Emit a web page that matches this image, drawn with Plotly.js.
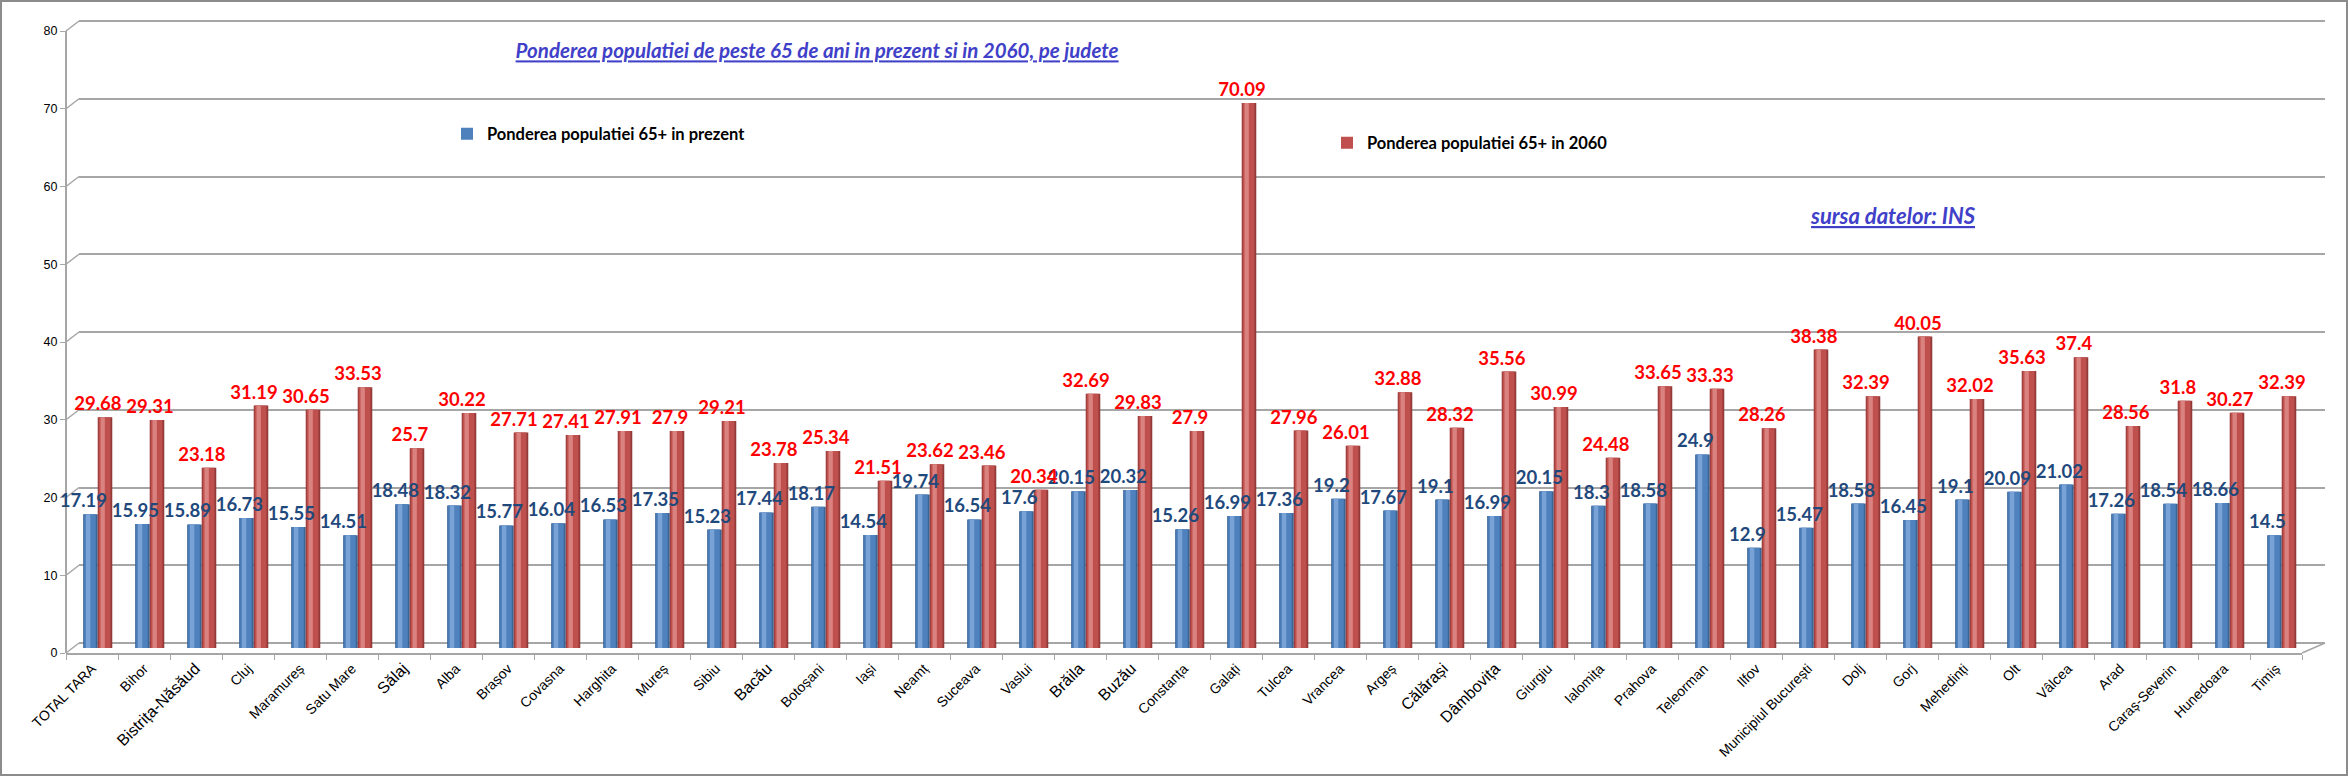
<!DOCTYPE html>
<html>
<head>
<meta charset="utf-8">
<script src="https://cdn.plot.ly/plotly-3.0.1.min.js"></script>
<style>
  html, body { margin: 0; padding: 0; background: #ffffff; }
  #wrap { position: relative; width: 2348px; height: 776px; }
  #chart { width: 2348px; height: 776px; }
  #frame { position: absolute; left: 0; top: 0; width: 2348px; height: 776px; box-sizing: border-box; border: 2px solid #8c8c8c; pointer-events: none; }
</style>
</head>
<body>
<div id="wrap"><div id="chart"></div><div id="frame"></div></div>
<script>
// ---- data ----
const categories = ["TOTAL TARA", "Bihor", "Bistrița-Năsăud", "Cluj", "Maramureș", "Satu Mare", "Sălaj", "Alba", "Brașov", "Covasna", "Harghita", "Mureș", "Sibiu", "Bacău", "Botoșani", "Iași", "Neamț", "Suceava", "Vaslui", "Brăila", "Buzău", "Constanța", "Galați", "Tulcea", "Vrancea", "Argeș", "Călărași", "Dâmbovița", "Giurgiu", "Ialomița", "Prahova", "Teleorman", "Ilfov", "Municipiul București", "Dolj", "Gorj", "Mehedinți", "Olt", "Vâlcea", "Arad", "Caraș-Severin", "Hunedoara", "Timiș"];
const present = [17.19, 15.95, 15.89, 16.73, 15.55, 14.51, 18.48, 18.32, 15.77, 16.04, 16.53, 17.35, 15.23, 17.44, 18.17, 14.54, 19.74, 16.54, 17.6, 20.15, 20.32, 15.26, 16.99, 17.36, 19.2, 17.67, 19.1, 16.99, 20.15, 18.3, 18.58, 24.9, 12.9, 15.47, 18.58, 16.45, 19.1, 20.09, 21.02, 17.26, 18.54, 18.66, 14.5];
const in2060 = [29.68, 29.31, 23.18, 31.19, 30.65, 33.53, 25.7, 30.22, 27.71, 27.41, 27.91, 27.9, 29.21, 23.78, 25.34, 21.51, 23.62, 23.46, 20.34, 32.69, 29.83, 27.9, 70.09, 27.96, 26.01, 32.88, 28.32, 35.56, 30.99, 24.48, 33.65, 33.33, 28.26, 38.38, 32.39, 40.05, 32.02, 35.63, 37.4, 28.56, 31.8, 30.27, 32.39];
const seriesNames = ["Ponderea populatiei 65+ in prezent", "Ponderea populatiei 65+ in 2060"];
const yTicks = [0, 10, 20, 30, 40, 50, 60, 70, 80];
const chartTitle = "Ponderea populatiei de peste 65 de ani in prezent si in 2060, pe judete";
const sourceNote = "sursa datelor: INS";
// category labels that the reference prints in a larger type
const largerLabels = ["Bistrița-Năsăud", "Sălaj", "Bacău", "Brăila", "Buzău", "Călărași", "Dâmbovița"];

// ---- styling ----
const LATO = "Lato, 'Liberation Sans', sans-serif";
const SANS = "'Liberation Sans', Arial, sans-serif";
const GRID = '#a6a6a6';
const BAR_W = 0.28;
const PLOT_W = 2259, PLOT_H = 635, PLOT_L = 66, PLOT_B = 653;
const DEPTH_X = 13, DEPTH_Y = 10;          // 3-D wall offset in px
const PX_PER_UNIT = 622 / 80;
const SPAN = PLOT_H / PX_PER_UNIT;
const px2x = px => (px - PLOT_L) / PLOT_W;
const px2y = py => (PLOT_B - py) / PLOT_H;

function cylinder(values, offset, colors, name, legendId) {
  const layers = [
    { w: 1.0,  shift: 0.0,   color: colors.edge,  legend: false },
    { w: 0.80, shift: -0.03, color: colors.body,  legend: true },
    { w: 0.30, shift: -0.16, color: colors.light, legend: false }
  ];
  return layers.map(L => ({
    type: 'bar',
    x: categories,
    y: values,
    xaxis: 'x2', yaxis: 'y2',
    width: BAR_W * L.w,
    offset: offset + BAR_W * (1 - L.w) / 2 + L.shift * BAR_W,
    marker: { color: L.color, line: { width: 0 } },
    name: name,
    showlegend: L.legend,
    legend: legendId,
    hoverinfo: L.legend ? 'x+y+name' : 'skip'
  }));
}

function labels(values, offset, color) {
  return {
    type: 'bar',
    x: categories,
    y: values,
    xaxis: 'x2', yaxis: 'y2',
    width: BAR_W,
    offset: offset,
    marker: { color: 'rgba(0,0,0,0)', line: { width: 0 } },
    text: values.map(v => String(v)),
    textposition: 'outside',
    constraintext: 'none',
    cliponaxis: false,
    textfont: { family: LATO, size: 18.5, color: color, weight: 'bold' },
    showlegend: false,
    hoverinfo: 'skip'
  };
}

const blueOff = -0.17, redOff = 0.11, labelShift = -0.135;
const data = [].concat(
  [{ type: 'scatter', x: [], y: [], xaxis: 'x', yaxis: 'y', showlegend: false, hoverinfo: 'skip' }],
  cylinder(present, blueOff, { edge: '#3a6396', body: '#4f81bd', light: '#79a2d6' }, seriesNames[0], 'legend'),
  cylinder(in2060, redOff, { edge: '#943b39', body: '#c0504d', light: '#d9827f' }, seriesNames[1], 'legend2'),
  [labels(present, blueOff + labelShift, '#1f497d'), labels(in2060, redOff + labelShift, '#ff0000')],
  [{ type: 'scatter', x: [], y: [], xaxis: 'x2', yaxis: 'y3', showlegend: false, hoverinfo: 'skip' }]
);

// 3-D look: diagonal wall connectors at each value tick, front value axis line, floor's right end
const shapes = yTicks.map(v => ({
  type: 'line', xref: 'paper', yref: 'paper', layer: 'below',
  x0: px2x(PLOT_L), y0: px2y(PLOT_B - v * PX_PER_UNIT),
  x1: px2x(PLOT_L + DEPTH_X), y1: px2y(PLOT_B - DEPTH_Y - v * PX_PER_UNIT),
  line: { color: GRID, width: 1.5 }
}));
shapes.push({
  type: 'line', xref: 'paper', yref: 'y3', layer: 'below',
  x0: 0, x1: 0, y0: yTicks[0], y1: yTicks[yTicks.length - 1],
  line: { color: GRID, width: 2 }
});
shapes.push({
  type: 'line', xref: 'paper', yref: 'paper', layer: 'below',
  x0: 2236 / PLOT_W, y0: 0, x1: 1, y1: px2y(PLOT_B - DEPTH_Y),
  line: { color: GRID, width: 1.5 }
});

const tickText = categories.map(c => largerLabels.includes(c) ? '<span style="font-size:16px">' + c + '</span>' : c);

const layout = {
  width: 2348, height: 776,
  margin: { l: PLOT_L, r: 2348 - PLOT_L - PLOT_W, t: PLOT_B - PLOT_H, b: 776 - PLOT_B },
  paper_bgcolor: '#ffffff',
  plot_bgcolor: 'rgba(0,0,0,0)',
  barmode: 'overlay',
  font: { family: SANS, color: '#000000' },
  title: {
    text: chartTitle,
    xref: 'container', yref: 'container',
    x: 0.348, y: 0.934, xanchor: 'center', yanchor: 'middle',
    font: { family: LATO, size: 20.5, color: '#4040c8', weight: 'bold', style: 'italic', lineposition: 'under' }
  },
  // back wall grid
  xaxis: { domain: [DEPTH_X / PLOT_W, 1], anchor: 'y', showgrid: false, zeroline: false, showline: false, showticklabels: false, ticks: '', range: [0, 1], fixedrange: true },
  yaxis: { domain: [0, 1], anchor: 'x', range: [-DEPTH_Y / PX_PER_UNIT, SPAN - DEPTH_Y / PX_PER_UNIT], tickvals: yTicks, showgrid: true, gridcolor: GRID, gridwidth: 2, zeroline: false, showline: false, showticklabels: false, ticks: '' },
  // front category axis and bars
  xaxis2: {
    domain: [0, 2236 / PLOT_W], anchor: 'y2', type: 'category',
    range: [-0.5, categories.length - 0.5],
    tickvals: categories, ticktext: tickText,
    tickson: 'boundaries', ticks: 'outside', ticklen: 5, tickcolor: GRID, tickwidth: 1,
    showline: true, linecolor: GRID, linewidth: 2, showgrid: false, zeroline: false,
    tickangle: -45, tickfont: { family: SANS, size: 14, color: '#000000' }
  },
  yaxis2: { domain: [0, 1], anchor: 'x2', range: [-5 / PX_PER_UNIT, SPAN - 5 / PX_PER_UNIT], visible: false, showgrid: false, zeroline: false },
  // front value labels
  yaxis3: {
    overlaying: 'y2', anchor: 'x2', side: 'left',
    range: [0, SPAN], tickvals: yTicks,
    showgrid: false, zeroline: false, showline: false,
    ticks: 'outside', ticklen: 5, tickcolor: GRID, tickwidth: 1,
    tickfont: { family: SANS, size: 12.5, color: '#000000' }
  },
  legend: {
    x: px2x(447), y: px2y(134), xanchor: 'left', yanchor: 'middle',
    bgcolor: 'rgba(0,0,0,0)', font: { family: LATO, size: 16.5, color: '#000000', weight: 'bold' }
  },
  legend2: {
    x: px2x(1327), y: px2y(143), xanchor: 'left', yanchor: 'middle',
    bgcolor: 'rgba(0,0,0,0)', font: { family: LATO, size: 16.5, color: '#000000', weight: 'bold' }
  },
  shapes: shapes,
  annotations: [{
    text: sourceNote, xref: 'paper', yref: 'paper', x: px2x(1893), y: px2y(215),
    xanchor: 'center', yanchor: 'middle', showarrow: false,
    font: { family: LATO, size: 22, color: '#4040c8', weight: 'bold', style: 'italic', lineposition: 'under' }
  }]
};

Plotly.newPlot('chart', data, layout, { staticPlot: true, displayModeBar: false });
</script>
</body>
</html>
